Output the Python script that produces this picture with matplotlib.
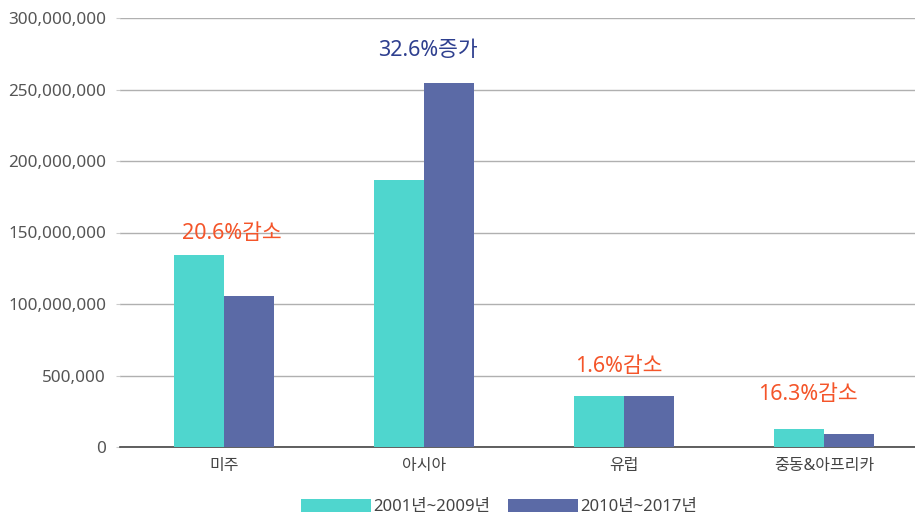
import matplotlib.pyplot as plt
import numpy as np

plt.rcParams['font.family'] = ['Noto Sans', 'Noto Sans CJK KR', 'DejaVu Sans']

# 데이터
regions = ["미주", "아시아", "유럽", "중동&아프리카"]
period1 = [134000000, 187000000, 36000000, 12500000]
period2 = [105500000, 254500000, 36000000, 9000000]
labels = ["20.6%감소", "32.6%증가", "1.6%감소", "16.3%감소"]
label_y = [149000000, 277500000, 56500000, 37000000]
label_dx = [0.04, 0.02, -0.025, -0.08]
label_colors = ["#f4552a", "#2e3f8f", "#f4552a", "#f4552a"]
yticks = [0, 50000000, 100000000, 150000000, 200000000, 250000000, 300000000]
ytick_labels = ["0", "500,000", "100,000,000", "150,000,000", "200,000,000",
                "250,000,000", "300,000,000"]

fig = plt.figure(figsize=(9.15, 5.15), dpi=100)
ax = fig.add_axes([120 / 915, 68 / 515, 795 / 915, 429 / 515])

x = np.arange(len(regions))
w = 0.25
ax.bar(x - w / 2, period1, w, color="#4fd6ce", label="2001년~2009년", zorder=3)
ax.bar(x + w / 2, period2, w, color="#5b6aa6", label="2010년~2017년", zorder=3)

for i in range(len(regions)):
    ax.text(x[i] + label_dx[i], label_y[i], labels[i], ha="center", va="center",
            fontsize=15.5, color=label_colors[i])

ax.set_xlim(-0.518, 3.455)
ax.set_ylim(0, 300000000)
ax.set_xticks(x)
ax.set_xticklabels(regions, fontsize=11.5, color="#444444")
ax.set_yticks(yticks)
ax.set_yticklabels(ytick_labels, fontsize=12.3, color="#555555")
ax.grid(axis="y", color="#b0b0b0", linewidth=1, zorder=0)
ax.tick_params(axis="x", length=0, pad=8)
ax.tick_params(axis="y", length=3, color="#cccccc", pad=7)
for s in ["top", "right", "left"]:
    ax.spines[s].set_visible(False)
ax.spines["bottom"].set_color("#444444")
ax.spines["bottom"].set_linewidth(1.2)

ax.legend(loc="center", bbox_to_anchor=(0.477, -0.14), ncol=2, frameon=False,
          fontsize=12, handlelength=4.2, handleheight=0.84, columnspacing=1.1,
          handletextpad=0.1, labelcolor="#444444")

plt.savefig("out.png")
